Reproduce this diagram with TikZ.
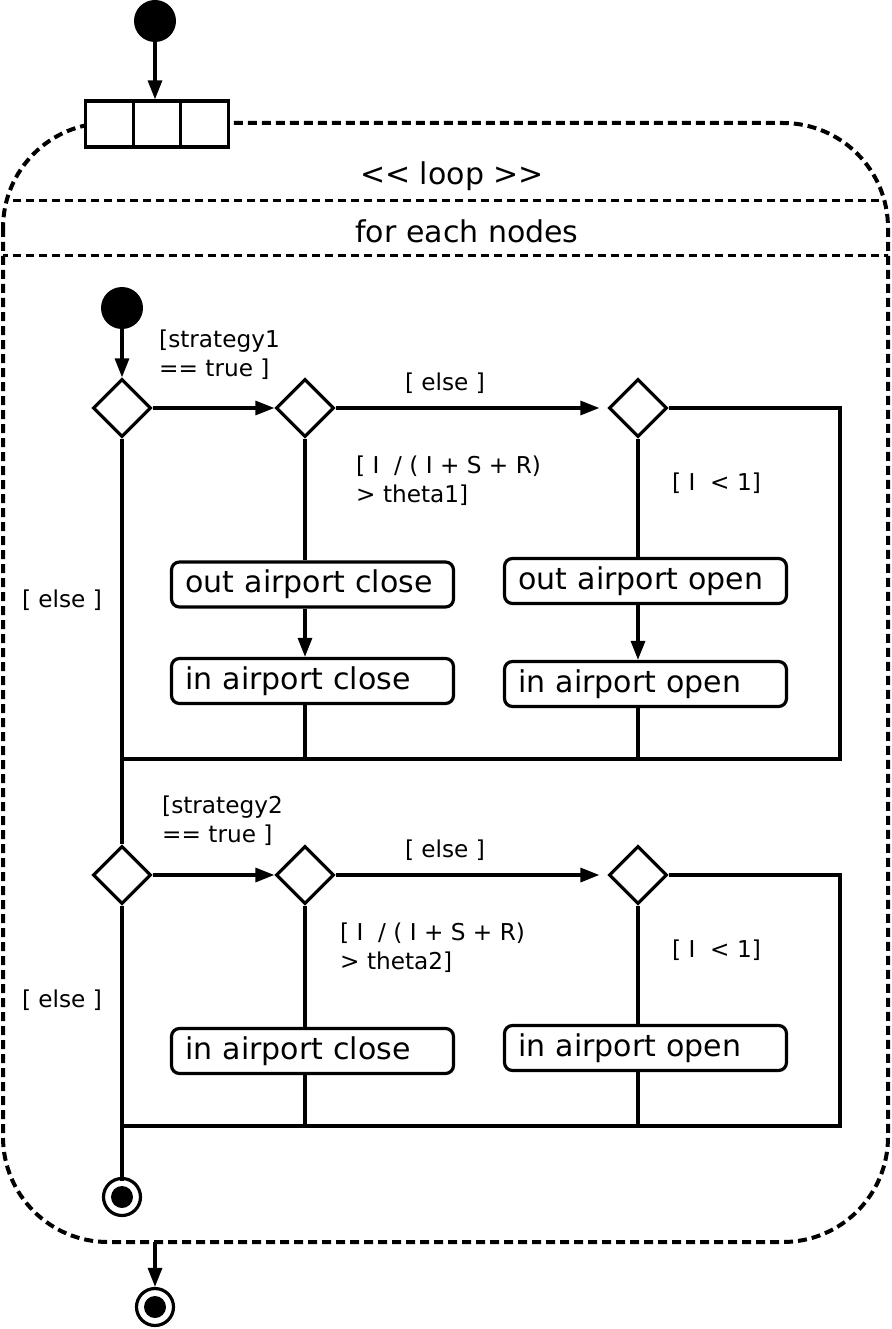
\documentclass[tikz,border=0pt]{standalone}
\usepackage{fontspec}
\setmainfont{DejaVu Sans}
\usetikzlibrary{shapes.geometric,arrows.meta,positioning}

\newcommand\actfont{\fontsize{30}{36}\selectfont}
\newcommand\grdfont{\fontsize{23.2}{29}\selectfont}

\tikzset{
  flow/.style={line width=3.2pt},
  arr/.style={flow,-{Triangle[length=19pt,width=14pt]}},
  decision/.style={diamond,draw,line width=3.2pt,minimum size=58pt,inner sep=0pt,fill=white},
  action/.style={rectangle,draw,line width=3.2pt,rounded corners=8pt,minimum height=45pt,
    text width=254pt,inner xsep=14pt,align=left,font=\actfont},
  initial/.style={circle,fill,inner sep=0pt},
  final/.style={circle,draw,line width=3.2pt,minimum size=37pt,inner sep=0pt,
    path picture={\fill (path picture bounding box.center) circle (11pt);}},
  pinbox/.style={rectangle,draw,line width=3.2pt,minimum width=47.5pt,minimum height=46pt,inner sep=0pt,fill=white},
  guard/.style={align=left,inner sep=0pt,font=\grdfont},
  frame/.style={line width=4pt,dash pattern=on 9pt off 5pt},
  separator/.style={line width=3pt,dash pattern=on 8pt off 5pt}
}

\begin{document}
\begin{tikzpicture}[x=1pt,y=-1pt]
  \useasboundingbox (0,0) rectangle (891,1329);

  \draw[frame,rounded corners=105pt] (3,123) rectangle (888,1242);
  \begin{scope}
    \clip[rounded corners=105pt] (3,123) rectangle (888,1242);
    \draw[separator] (0,201) -- (891,201);
    \draw[separator] (0,256) -- (891,256);
  \end{scope}
  \node[font=\actfont] (loop) at (452,176) {<\kern0pt< loop >\kern0pt>};
  \node[font=\actfont] (each) at (467,231) {for each nodes};

  \node[initial,minimum size=42pt] (start) at (155,21) {};
  \node[pinbox] (pin1) at (109.5,124) {};
  \node[pinbox,right=-3.2pt of pin1] (pin2) {};
  \node[pinbox,right=-3.2pt of pin2] (pin3) {};
  \draw[arr] (start) -- (start |- pin2.north);

  % first strategy
  \node[initial,minimum size=42pt] (init) at (122,308) {};
  \node[decision] (d1) at (122,408) {};
  \node[decision] (d2) at (305,408) {};
  \node[decision] (d3) at (638,408) {};
  \node[action] (oac) at (312.5,584.5) {out airport close};
  \node[action] (iac) at (312.5,681) {in airport close};
  \node[action] (oao) at (645.5,581) {out airport open};
  \node[action] (iao) at (645.5,684) {in airport open};
  \coordinate (m1) at (840,759);

  \draw[arr] (init) -- (d1);
  \draw[arr] (d1) -- (d2);
  \draw[arr] (d2) -- ([xshift=-8pt]d3.west);
  \draw[flow] (d3.east) -- (d3.east -| m1) -- (m1) -- (m1 -| d1);
  \draw[flow] (d2) -- (d2 |- oac.north);
  \draw[arr] (d2 |- oac.south) -- (d2 |- iac.north);
  \draw[flow] (d2 |- iac.south) -- (d2 |- m1);
  \draw[flow] (d3) -- (d3 |- oao.north);
  \draw[arr] (d3 |- oao.south) -- (d3 |- iao.north);
  \draw[flow] (d3 |- iao.south) -- (d3 |- m1);

  \node[guard,anchor=west] (g1) at (159,355) {[strategy1\\== true ]};
  \node[guard] (e1) at (445,383) {[ else ]};
  \node[guard,anchor=west] (t1) at (356,481) {[ I\ \ / ( I + S + R)\\> theta1]};
  \node[guard,anchor=west] (l1) at (672,483) {[ I\ \ < 1]};
  \node[guard] (e2) at (62,600) {[ else ]};

  % second strategy
  \node[decision] (d4) at (122,875) {};
  \node[decision] (d5) at (305,875) {};
  \node[decision] (d6) at (638,875) {};
  \node[action] (iac2) at (312.5,1051) {in airport close};
  \node[action] (iao2) at (645.5,1048) {in airport open};
  \coordinate (m2) at (840,1126);
  \node[final] (end1) at (122,1197) {};

  \draw[flow] (d1) -- (d4);
  \draw[arr] (d4) -- (d5);
  \draw[arr] (d5) -- ([xshift=-8pt]d6.west);
  \draw[flow] (d6.east) -- (d6.east -| m2) -- (m2) -- (m2 -| d4);
  \draw[flow] (d5) -- (d5 |- iac2.north);
  \draw[flow] (d5 |- iac2.south) -- (d5 |- m2);
  \draw[flow] (d6) -- (d6 |- iao2.north);
  \draw[flow] (d6 |- iao2.south) -- (d6 |- m2);
  \draw[flow] (d4) -- ([yshift=-4pt]end1.north);

  \node[guard,anchor=west] (g2) at (162,821) {[strategy2\\== true ]};
  \node[guard] (e3) at (445,850) {[ else ]};
  \node[guard,anchor=west] (t2) at (340,948) {[ I\ \ / ( I + S + R)\\> theta2]};
  \node[guard,anchor=west] (l2) at (672,950) {[ I\ \ < 1]};
  \node[guard] (e4) at (62,1000) {[ else ]};

  \coordinate (loopend) at (155,1242);
  \node[final] (end) at (155,1307) {};
  \draw[arr] (loopend) -- (end);
\end{tikzpicture}
\end{document}
